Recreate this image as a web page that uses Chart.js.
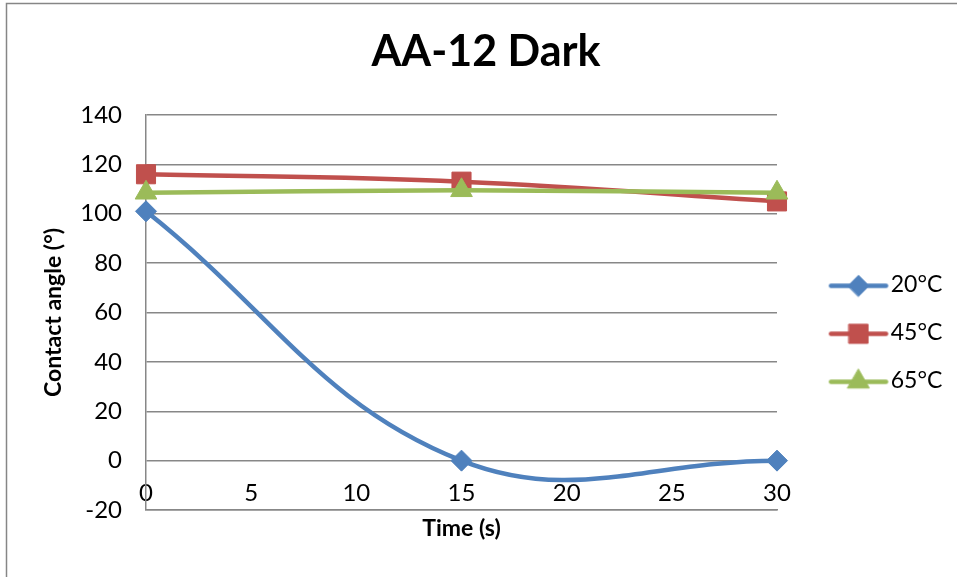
<!DOCTYPE html>
<html>
<head>
<meta charset="utf-8">
<title>AA-12 Dark</title>
<script src="https://cdn.jsdelivr.net/npm/chart.js@4/dist/chart.umd.min.js"></script>
<style>
  html, body { margin: 0; padding: 0; background: #ffffff; }
  #wrap { width: 957px; height: 577px; }
</style>
</head>
<body>
<div id="wrap"><canvas id="chart" width="957" height="577"></canvas></div>
<script>
// Contact angle over time at three temperatures
const times = [0, 15, 30];
const angle20 = [101, 0, 0];
const angle45 = [116, 113, 105];
const angle65 = [108.5, 109.5, 108.5];
const seriesLabels = ['20°C', '45°C', '65°C'];
const chartTitle = 'AA-12 Dark';
const xTitle = 'Time (s)';
const yTitle = 'Contact angle (°)';
const xMin = 0, xMax = 30, xStep = 5;
const yMin = -20, yMax = 140, yStep = 20;

const FONT = 'Lato, "Open Sans", "DejaVu Sans", sans-serif';
const GRID = '#878787';
const KEY_FONT_SIZE = 23;
const KEY_BOX = 77.2;      // width reserved for each key swatch
const KEY_GAP = 25;        // legend label padding
const PLOT_RIGHT_SPACE = 180;

function toPoints(ys) {
  return times.map((t, i) => ({ x: t, y: ys[i] }));
}

function seriesStyle(color, style, radius, order) {
  return {
    borderColor: color,
    backgroundColor: color,
    borderWidth: 4.5,
    pointStyle: style,
    pointRadius: radius,
    pointHoverRadius: radius,
    pointBackgroundColor: color,
    pointBorderColor: color,
    pointBorderWidth: 1,
    tension: 0.4,
    fill: false,
    clip: false,
    order: order
  };
}

// later series are painted over earlier ones
const datasets = [
  Object.assign({ label: seriesLabels[0], data: toPoints(angle20) }, seriesStyle('#4F81BD', 'rectRot', 10.5, 2)),
  Object.assign({ label: seriesLabels[1], data: toPoints(angle45) }, seriesStyle('#C0504D', 'rect', 13.5, 1)),
  Object.assign({ label: seriesLabels[2], data: toPoints(angle65) }, seriesStyle('#9BBB59', 'triangle', 12.5, 0))
];

// Key swatch: a short stroke of the series line with its marker on top
function keySwatch(ds) {
  const c = document.createElement('canvas');
  c.width = 100;
  c.height = 34;
  const g = c.getContext('2d');
  const y = 17 + 1.5;
  g.strokeStyle = ds.borderColor;
  g.lineWidth = ds.borderWidth;
  g.lineCap = 'round';
  g.beginPath();
  g.moveTo(40.4, y);
  g.lineTo(95.4, y);
  g.stroke();
  g.fillStyle = ds.pointBackgroundColor;
  g.strokeStyle = ds.pointBorderColor;
  g.lineWidth = ds.pointBorderWidth;
  Chart.helpers.drawPoint(g, {
    pointStyle: ds.pointStyle,
    radius: ds.pointRadius,
    rotation: 0,
    borderWidth: ds.pointBorderWidth
  }, 67.9, y);
  return c;
}
const swatches = datasets.map(keySwatch);

// Widest key label, so the legend column and the title centre can be set up
const measure = document.createElement('canvas').getContext('2d');
measure.font = KEY_FONT_SIZE + 'px ' + FONT;
const keyTextWidth = Math.max(...seriesLabels.map(s => measure.measureText(s).width));
const legendWidth = KEY_GAP + KEY_BOX + KEY_FONT_SIZE / 2 + keyTextWidth + 10;
const padRight = Math.max(0, PLOT_RIGHT_SPACE - legendWidth);
const padLeft = 15 + padRight;

// White background and the outer frame of the chart
const frame = {
  id: 'frame',
  beforeDraw(chart) {
    const ctx = chart.ctx;
    ctx.save();
    ctx.fillStyle = '#ffffff';
    ctx.fillRect(0, 0, chart.width, chart.height);
    ctx.strokeStyle = '#868686';
    ctx.lineWidth = 1.5;
    ctx.strokeRect(6.5, 3.5, chart.width + 20, chart.height + 20);
    ctx.restore();
  }
};

new Chart(document.getElementById('chart'), {
  type: 'line',
  data: { datasets: datasets },
  plugins: [frame],
  options: {
    responsive: false,
    animation: false,
    events: [],
    layout: { padding: { top: 0, left: padLeft, right: padRight, bottom: 35.1 } },
    plugins: {
      legend: {
        display: true,
        position: 'right',
        fullSize: false,
        align: 'center',
        // empty heading keeps the key rows a little below the middle
        title: { display: true, text: '', font: { family: FONT, size: 16 }, padding: 10.2 },
        labels: {
          usePointStyle: true,
          pointStyleWidth: KEY_BOX,
          padding: KEY_GAP,
          color: '#000000',
          font: { family: FONT, size: KEY_FONT_SIZE },
          generateLabels(chart) {
            return chart.data.datasets.map((ds, i) => ({
              text: ds.label,
              datasetIndex: i,
              pointStyle: swatches[i],
              fillStyle: ds.borderColor,
              strokeStyle: ds.borderColor,
              lineWidth: 0,
              fontColor: '#000000',
              hidden: false
            }));
          }
        }
      },
      tooltip: { enabled: false },
      title: {
        display: true,
        text: chartTitle,
        color: '#000000',
        font: { family: FONT, size: 43, weight: 'bold' },
        padding: { top: 26.2, bottom: 37.2 }
      }
    },
    scales: {
      x: {
        type: 'linear',
        position: 'bottom',
        min: xMin,
        max: xMax,
        ticks: {
          stepSize: xStep,
          color: '#000000',
          font: { family: FONT, size: 24 },
          mirror: true,
          padding: 1.9,
          maxRotation: 0
        },
        grid: { display: false, drawTicks: false },
        border: { display: true, color: GRID, width: 1.5 },
        title: {
          display: true,
          text: xTitle,
          color: '#000000',
          font: { family: FONT, size: 23, weight: 'bold' },
          padding: { top: 0, bottom: 0 }
        },
        afterFit(scale) { scale.height = 31.9; }
      },
      y: {
        type: 'linear',
        position: 'left',
        min: yMin,
        max: yMax,
        ticks: {
          stepSize: yStep,
          color: '#000000',
          font: { family: FONT, size: 24 },
          padding: 24
        },
        grid: { display: true, color: GRID, lineWidth: 1.5, drawTicks: false },
        border: { display: true, color: GRID, width: 1.5 },
        title: {
          display: true,
          text: yTitle,
          color: '#000000',
          font: { family: FONT, size: 23, weight: 'bold' },
          padding: { top: 39.3 - padLeft, bottom: 0 }
        },
        afterFit(scale) { scale.width = 146 - padLeft; }
      }
    }
  }
});
</script>
</body>
</html>
